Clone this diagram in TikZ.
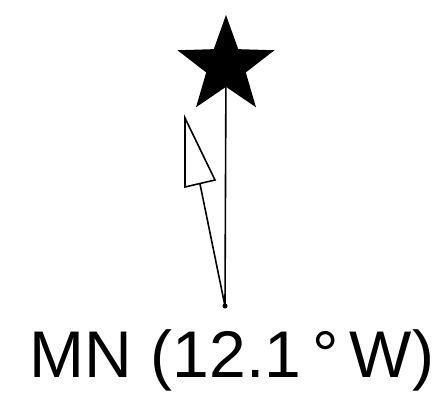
\documentclass[tikz,border=0pt]{standalone}
\usepackage{fontspec}
\setmainfont{Liberation Sans}
\usetikzlibrary{shapes.geometric}
\begin{document}
\begin{tikzpicture}[x=1pt,y=-1pt,
  pin/.style={draw=black,line width=1.6pt},
  tri/.style={draw=black,fill=white,line width=1.6pt,line join=miter}]
\useasboundingbox (0,0) rectangle (448,404);
\node[star,star points=5,star point ratio=2.45,minimum size=102pt,inner sep=0pt,fill=black,draw=none] (star) at (226,66) {};
\coordinate (base) at (225,306);
\coordinate (tip) at (185,118);
\coordinate (tl) at (185,187);
\coordinate (tr) at (215,180);
\coordinate (mid) at (200,184);
\draw[pin] (star.center) -- (base);
\draw[pin] (base) -- (mid);
\draw[tri] (tip) -- (tl) -- (tr) -- cycle;
\fill (base) circle (2.5pt);
\node[font=\fontsize{66}{70}\selectfont,inner sep=0pt] (lbl) at (232,360) {MN (12.1\,°\,W)};
\end{tikzpicture}
\end{document}
